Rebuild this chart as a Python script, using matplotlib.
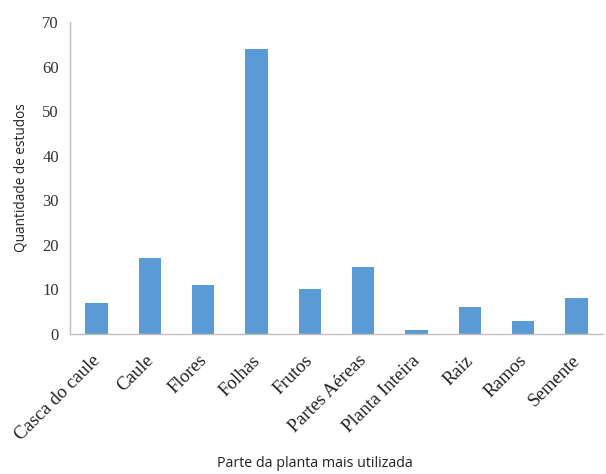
import matplotlib.pyplot as plt
import numpy as np

# dados
categorias = ['Casca do caule', 'Caule', 'Flores', 'Folhas', 'Frutos',
              'Partes Aéreas', 'Planta Inteira', 'Raiz', 'Ramos', 'Semente']
quantidade = [7, 17, 11, 64, 10, 15, 1, 6, 3, 8]
y_ticks = [0, 10, 20, 30, 40, 50, 60, 70]

fig = plt.figure(figsize=(6.06, 4.74), dpi=100)
ax = fig.add_axes([0.1155, 0.2954, 0.8795, 0.6582])

x = np.arange(len(categorias))
ax.bar(x, quantidade, width=0.42, color='#5B9BD5')

ax.set_xlim(-0.5, len(categorias) - 0.5)
ax.set_ylim(0, 70)
ax.set_yticks(y_ticks)
ax.set_yticklabels([str(v) for v in y_ticks], family='Liberation Serif',
                   fontsize=12, color='#333333')
# rótulos rodados, a terminar junto ao centro da barra
ax.set_xticks(x - 0.1)
ax.set_xticklabels(categorias, rotation=45, ha='right', rotation_mode='anchor',
                   family='Liberation Serif', fontsize=13.5, color='#222222')
ax.tick_params(axis='x', length=0, pad=13)
ax.tick_params(axis='y', length=0, pad=8)

for s in ['top', 'right']:
    ax.spines[s].set_visible(False)
for s in ['left', 'bottom']:
    ax.spines[s].set_color('#BFBFBF')
    ax.spines[s].set_linewidth(1.0)

ax.set_ylabel('Quantidade de estudos', family='Open Sans', fontsize=9.8,
              color='#222222', labelpad=10)
fig.text(0.52, 0.015, 'Parte da planta mais utilizada', ha='center',
         family='Open Sans', fontsize=10.3, color='#222222')

plt.savefig('out.png', dpi=100)
